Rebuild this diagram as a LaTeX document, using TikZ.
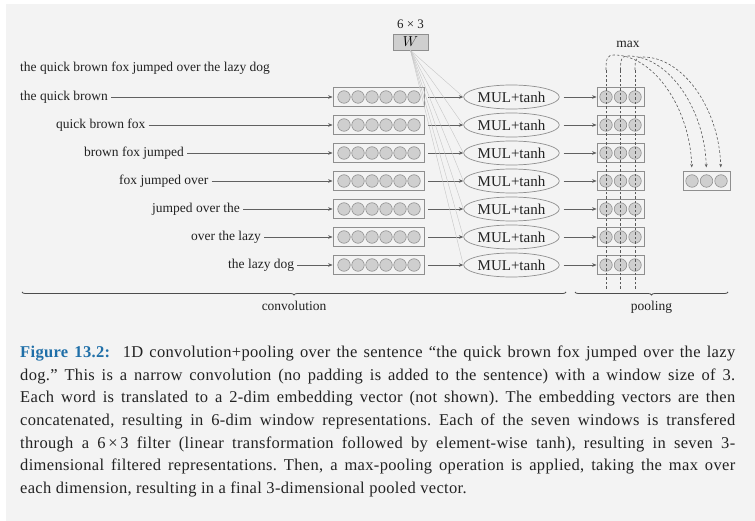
\documentclass[tikz,border=0pt]{standalone}
\usepackage{fontspec}
\setmainfont{Liberation Serif}
\usetikzlibrary{arrows.meta,positioning,shapes.geometric,decorations.pathreplacing,calc}
\definecolor{bgc}{HTML}{F3F3F3}
\definecolor{boxc}{HTML}{8E8E8E}
\definecolor{cellc}{HTML}{CFCFCF}
\definecolor{figc}{HTML}{1F6FA8}
\definecolor{inkc}{HTML}{222222}

\tikzset{
  vec/.style={draw=boxc, line width=0.8pt, minimum height=19pt, inner sep=0pt},
  cell/.style={circle, draw=boxc, fill=cellc, line width=0.6pt, minimum size=12.5pt, inner sep=0pt},
  mul/.style={ellipse, draw=boxc, line width=0.7pt, minimum width=93pt, minimum height=24pt, inner sep=0pt,
    text=inkc, font=\fontsize{15}{15}\selectfont},
  word/.style={anchor=west, inner sep=0pt, text=inkc, font=\fontsize{13.5}{14}\selectfont},
  feed/.style={-{Stealth[length=4.5pt,width=3.6pt]}, draw=gray!75!black, line width=0.6pt},
  wline/.style={draw=gray!45, line width=0.4pt},
  pool/.style={draw=gray!70!black, dash pattern=on 2.5pt off 2pt, line width=0.6pt},
  span/.style={decorate, decoration={brace, mirror, amplitude=3pt}, draw=gray!60!black, line width=0.8pt},
  spanlabel/.style={midway, below=9pt, inner sep=0pt, text=inkc, font=\fontsize{13.5}{14}\selectfont},
}

\begin{document}
\begin{tikzpicture}[x=1pt, y=-1pt]
  \useasboundingbox (0,0) rectangle (755,521);
  \fill[bgc] (0,0) rectangle (755,521);
  \fill[white] (0,0) rectangle (6,521);
  \fill[white] (0,0) rectangle (755,4);

  % filter matrix
  \node[vec, fill=cellc, minimum width=35pt, minimum height=16pt, font=\fontsize{14}{14}\selectfont] (w) at (410.5,42) {$W$};
  \node[text=inkc, font=\fontsize{13}{13}\selectfont, above=1pt of w] (wdim) {6 × 3};

  \node[word] (sent) at (20,68) {the quick brown fox jumped over the lazy dog};

  % windows, filters and filtered vectors
  \foreach \i/\lx/\txt [evaluate=\i as \ry using 69+28*\i] in
    {1/20/the quick brown, 2/56/quick brown fox, 3/84/brown fox jumped, 4/119/fox jumped over,
     5/152/jumped over the, 6/191/over the lazy, 7/228/the lazy dog} {
    \node[word] (l_\i) at (\lx,\ry) {\txt};
    \node[vec, minimum width=91pt] (v_\i) at (378.5,\ry) {};
    \foreach \c in {0,...,5}
      \node[cell] (v_\i_\c) at (344+14*\c,\ry) {};
    \node[mul] (f_\i) at (511.5,\ry) {MUL+tanh};
    \node[vec, minimum width=47pt] (h_\i) at (620.5,\ry) {};
    \foreach \c in {0,1,2}
      \node[cell] (h_\i_\c) at (606+14.5*\c,\ry) {};
    \draw[feed, shorten <=3pt] (l_\i) -- (v_\i);
    \draw[feed, shorten <=4pt] (v_\i) -- (f_\i);
    \draw[feed, shorten <=4pt] (f_\i) -- (h_\i);
    \draw[wline] (w.south) -- (f_\i.west);
  }

  % pooled vector
  \node[vec, minimum width=47pt] (out) at (706.5,181) {};
  \foreach \c in {0,1,2}
    \node[cell] (o_\c) at (692+14.5*\c,181) {};
  \node[text=inkc, font=\fontsize{13.5}{14}\selectfont] (max) at (628,44) {max};

  \foreach \c in {0,1,2} {
    \draw[pool] ($(h_7_\c)+(0,24)$) -- ($(h_1_\c)+(0,-27)$);
    \draw[pool, -{Stealth[length=3.5pt,width=2.8pt]}, shorten >=7pt]
      ($(h_1_\c)+(0,-27)$) .. controls +(0,-11) and ($(h_1_\c)+(1,-42+\c)$) .. ($(h_1_\c)+(8,-42+\c)$)
      .. controls ($(h_1_\c)+(48,-42+\c)$) and ($(o_\c.north)+(-2,-66)$) .. (o_\c.north);
  }

  % braces
  \coordinate (cv_a) at (22,292);
  \coordinate (cv_b) at (566,292);
  \coordinate (pl_a) at (575,292);
  \coordinate (pl_b) at (728,292);
  \draw[span] (cv_a) -- (cv_b) node[spanlabel] {convolution};
  \draw[span] (pl_a) -- (pl_b) node[spanlabel] {pooling};

  % caption
  \node[anchor=north west, inner sep=0pt, text width=715pt, align=justify, text=inkc,
    font=\fontsize{16.5}{22.7}\selectfont\addfontfeatures{LetterSpace=2}\frenchspacing] (cap) at (20,345.5) {%
    \textcolor{figc}{\textbf{Figure 13.2:}}\ \ 1D convolution+pooling over the sentence “the quick brown fox jumped over the lazy\linebreak
    dog.” This is a narrow convolution (no padding is added to the sentence) with a window size of 3.\linebreak
    Each word is translated to a 2-dim embedding vector (not shown). The embedding vectors are then\linebreak
    concatenated, resulting in 6-dim window representations. Each of the seven windows is transfered\linebreak
    through a 6\,×\,3 filter (linear transformation followed by element-wise tanh), resulting in seven 3-\linebreak
    dimensional filtered representations. Then, a max-pooling operation is applied, taking the max over\linebreak
    each dimension, resulting in a final 3-dimensional pooled vector.\par};
\end{tikzpicture}
\end{document}
